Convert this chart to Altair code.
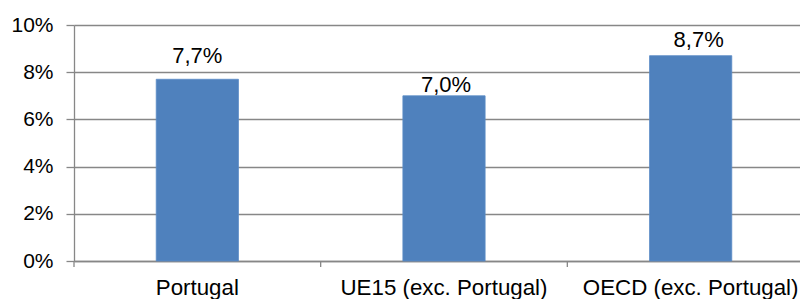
import altair as alt
import pandas as pd

categories = ["Portugal", "UE15 (exc. Portugal)", "OECD (exc. Portugal)"]
values = [0.077, 0.070, 0.087]
labels = ["7,7%", "7,0%", "8,7%"]
y_ticks = [0, 0.02, 0.04, 0.06, 0.08, 0.10]

df = pd.DataFrame({"cat": categories, "val": values, "lab": labels})

FONT = "Liberation Sans"
GRID = "#878787"
BAR = "#4F81BD"
PLOT_W = 726          # visible plot width (page stays within the window)
RANGE_W = 740         # category axis continues a little past the window edge
BAR_W = RANGE_W / 9   # band width = inner padding gap on each side

x_scale = alt.Scale(paddingInner=2 / 3, paddingOuter=1 / 3, range=[0, RANGE_W])
x_enc = alt.X(
    "cat:N",
    sort=categories,
    scale=x_scale,
    axis=alt.Axis(
        title=None,
        labelAngle=0,
        ticks=False,
        domain=True,
        domainColor=GRID,
        domainWidth=1.3,
        grid=False,
        labelFont=FONT,
        labelFontSize=22.3,
        labelColor="#000000",
        labelPadding=15,
        labelLimit=0,
        labelOverlap=False,
    ),
)
y_enc = alt.Y(
    "val:Q",
    scale=alt.Scale(domain=[0, 0.10], nice=False, zero=True),
    axis=alt.Axis(
        title=None,
        values=y_ticks,
        format=".0%",
        grid=True,
        gridColor=GRID,
        gridWidth=1.3,
        domain=True,
        domainColor=GRID,
        domainWidth=1.3,
        ticks=True,
        tickSize=8,
        tickColor=GRID,
        tickWidth=1.3,
        labelFont=FONT,
        labelFontSize=21,
        labelColor="#000000",
        labelPadding=13,
    ),
)

base = alt.Chart(df)
bars = base.mark_bar(color=BAR, stroke="#5B8CC6", strokeWidth=0.8).encode(x=x_enc, y=y_enc)

# category boundary ticks below the horizontal axis
seps = base.mark_rule(color=GRID, strokeWidth=1.3).encode(
    x=alt.X("cat:N", sort=categories, bandPosition=0),
    xOffset=alt.value(-BAR_W),
    y=alt.value(236),
    y2=alt.value(242),
)

offsets = {categories[0]: (0, -16.5), categories[1]: (2, -4), categories[2]: (8, -9)}
texts = []
for c in categories:
    dx, dy = offsets[c]
    texts.append(
        base.transform_filter(alt.datum.cat == c)
        .mark_text(font=FONT, fontSize=22, color="#000000", baseline="alphabetic", dx=dx, dy=dy)
        .encode(x=alt.X("cat:N", sort=categories), y="val:Q", text="lab:N")
    )

chart = (
    alt.layer(bars, seps, *texts)
    .properties(
        width=PLOT_W,
        height=236,
        autosize=alt.AutoSizeParams(type="none"),
        padding={"left": 66, "top": 17, "right": 0, "bottom": 38},
    )
    .configure_view(stroke=None)
)

chart.save("out.html", embed_options={"renderer": "svg", "actions": False})
